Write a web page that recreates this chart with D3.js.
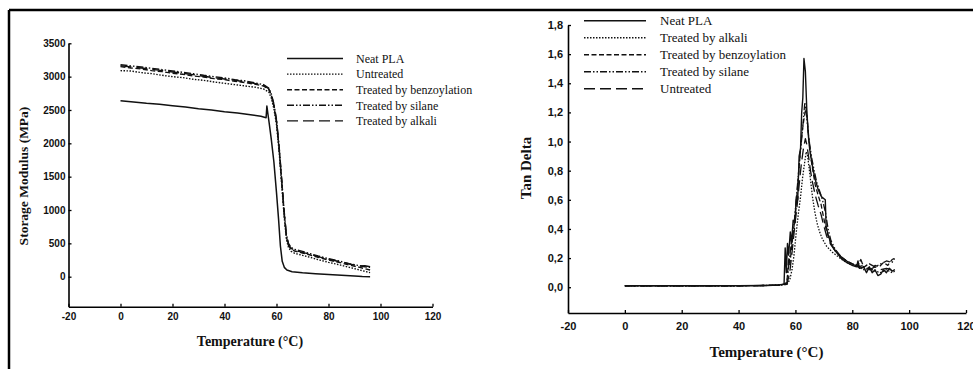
<!DOCTYPE html>
<html><head><meta charset="utf-8">
<script src="https://cdn.jsdelivr.net/npm/d3@7"></script>
<style>body{margin:0;background:#fff}svg{display:block}</style>
</head><body>
<script>
// ---------- DATA ----------
const xTicks = [-20, 0, 20, 40, 60, 80, 100, 120];
const smTicks = [0, 500, 1000, 1500, 2000, 2500, 3000, 3500];
const tdTicks = [0, 0.2, 0.4, 0.6, 0.8, 1.0, 1.2, 1.4, 1.6, 1.8];

const smLegend = ["Neat PLA", "Untreated", "Treated by benzoylation", "Treated by silane", "Treated by alkali"];
const tdLegend = ["Neat PLA", "Treated by alkali", "Treated by benzoylation", "Treated by silane", "Untreated"];

// Storage modulus (MPa) vs temperature (°C)
const smNeat = [[0,2640],[5,2620],[10,2600],[15,2585],[20,2565],[25,2545],[30,2520],[35,2500],[40,2475],[45,2455],[50,2430],[54,2405],[56,2385],[56.3,2560],[56.6,2470],[57.2,2300],[58,2060],[59,1720],[60,1260],[60.8,860],[61.5,460],[62.2,230],[63,140],[64,100],[66,75],[70,58],[75,45],[80,32],[85,20],[90,9],[93,3],[96,0]];
const smUntreated = [[0,3090],[4,3085],[8,3060],[12,3045],[16,3020],[20,3000],[24,2985],[28,2960],[32,2945],[36,2920],[40,2900],[44,2880],[48,2860],[52,2840],[55,2815],[57,2770],[58,2680],[59,2520],[60,2280],[61,1880],[62,1380],[63,880],[63.8,560],[64.6,440],[65.6,380],[67,350],[70,320],[73,290],[76,255],[80,215],[84,180],[88,140],[92,100],[94,80],[96,60]];
const smBenzoyl = [[0,3150],[4,3130],[8,3115],[12,3090],[16,3075],[20,3050],[24,3035],[28,3010],[32,2995],[36,2970],[40,2955],[44,2930],[48,2910],[52,2885],[55,2860],[57,2810],[58,2720],[59,2560],[60,2320],[61,1920],[62,1420],[63,920],[63.8,600],[64.6,470],[65.6,415],[67,385],[70,355],[73,325],[76,290],[80,250],[84,215],[88,175],[92,140],[94,120],[96,100]];
const smSilane = [[0,3180],[4,3160],[8,3145],[12,3125],[16,3105],[20,3085],[24,3065],[28,3045],[32,3020],[36,3000],[40,2980],[44,2955],[48,2935],[52,2905],[55,2880],[57,2830],[58,2740],[59,2590],[60,2360],[61,1960],[62,1460],[63,960],[63.8,640],[64.6,500],[65.6,440],[67,410],[70,380],[73,345],[76,310],[80,270],[84,235],[88,195],[92,165],[94,150],[96,140]];
const smAlkali = [[0,3165],[4,3145],[8,3130],[12,3110],[16,3090],[20,3070],[24,3050],[28,3030],[32,3005],[36,2985],[40,2965],[44,2945],[48,2920],[52,2895],[55,2870],[57,2820],[58,2730],[59,2575],[60,2340],[61,1940],[62,1440],[63,940],[63.8,620],[64.6,485],[65.6,425],[67,395],[70,365],[73,335],[76,300],[80,262],[84,228],[88,190],[92,160],[94,165],[96,150]];

// Tan delta vs temperature (°C)
const tdNeat = [[0,0.01],[20,0.01],[40,0.01],[50,0.012],[54,0.015],[56,0.02],[56.4,0.27],[56.8,0.1],[57.2,0.3],[57.6,0.22],[58.2,0.38],[58.6,0.3],[59.2,0.46],[59.8,0.44],[60.3,0.62],[60.8,0.6],[61.3,0.9],[61.8,0.95],[62.2,1.2],[62.6,1.3],[63,1.57],[63.5,1.48],[64,1.22],[64.5,1.05],[65,0.95],[65.8,0.85],[66.8,0.75],[68,0.67],[69.2,0.62],[70.5,0.6],[70.8,0.42],[71.5,0.36],[72.5,0.3],[74,0.25],[76,0.2],[78,0.17],[80,0.15],[81.5,0.14],[82,0.18],[82.5,0.13],[84,0.14],[85,0.1],[86,0.14],[87,0.1],[88,0.12],[89,0.08],[90,0.09],[91,0.12],[92,0.1],[93,0.13],[94,0.11],[95,0.12]];
const tdAlkali = [[0,0.01],[20,0.01],[40,0.01],[50,0.012],[55,0.015],[57,0.02],[58,0.05],[58.8,0.12],[59.5,0.22],[60.2,0.36],[61,0.5],[61.8,0.62],[62.5,0.75],[63.2,0.85],[63.8,0.93],[64.3,0.9],[64.8,0.82],[65.4,0.72],[66,0.62],[66.8,0.52],[67.6,0.44],[68.5,0.38],[69.5,0.33],[71,0.28],[73,0.24],[75,0.21],[77,0.18],[80,0.15],[82,0.14],[84,0.12],[86,0.13],[88,0.11],[90,0.1],[92,0.12],[94,0.1],[95,0.11]];
const tdBenzoyl = [[0,0.01],[20,0.01],[40,0.01],[50,0.012],[55,0.015],[57,0.03],[57.6,0.2],[58,0.15],[58.8,0.3],[59.5,0.42],[60.2,0.55],[60.8,0.7],[61.4,0.85],[62,1.0],[62.6,1.1],[63.2,1.18],[63.7,1.23],[64.2,1.15],[64.8,1.0],[65.5,0.88],[66.3,0.78],[67,0.7],[68,0.63],[69,0.57],[70,0.47],[71,0.38],[72.5,0.3],[74,0.25],[76,0.21],[78,0.18],[80,0.16],[82,0.15],[83.5,0.13],[85,0.15],[86.5,0.12],[88,0.15],[89.5,0.14],[91,0.17],[92.5,0.15],[94,0.19],[95,0.2]];
const tdSilane = [[0,0.01],[20,0.01],[40,0.01],[50,0.012],[55,0.015],[57,0.03],[57.8,0.18],[58.4,0.28],[59,0.35],[59.6,0.45],[60.2,0.58],[60.8,0.72],[61.5,0.88],[62.2,1.02],[62.8,1.15],[63.3,1.27],[63.8,1.2],[64.3,1.1],[65,0.98],[65.8,0.88],[66.6,0.8],[67.5,0.72],[68.5,0.66],[69.5,0.6],[70.5,0.52],[71.5,0.4],[72.5,0.32],[74,0.26],[76,0.21],[78,0.18],[80,0.16],[82,0.15],[83,0.19],[84,0.14],[86,0.16],[88,0.14],[90,0.16],[92,0.18],[94,0.17],[95,0.2]];
const tdUntreated = [[0,0.01],[20,0.01],[40,0.01],[50,0.012],[55,0.015],[57,0.02],[58,0.1],[58.7,0.22],[59.4,0.35],[60,0.46],[60.7,0.58],[61.4,0.72],[62.1,0.85],[62.8,0.95],[63.5,1.02],[64,0.98],[64.6,0.9],[65.3,0.8],[66,0.72],[67,0.63],[68,0.56],[69,0.5],[70,0.42],[71,0.35],[72.5,0.29],[74,0.25],[76,0.21],[78,0.18],[80,0.16],[82,0.14],[84,0.15],[86,0.12],[88,0.14],[90,0.12],[92,0.13],[94,0.12],[95,0.13]];

// ---------- STYLES ----------
const dashSolid = null, dashDot = "1.5,1.5", dashShort = "5,2.5", dashDotDot = "7,2,1.5,2,1.5,2", dashLong = "11,5";

const W = 973, H = 369;
const svg = d3.select("body").append("svg").attr("width", W).attr("height", H);

// outer frame (top & left)
svg.append("line").attr("x1", 9).attr("x2", W).attr("y1", 10).attr("y2", 10).attr("stroke", "#000").attr("stroke-width", 2.5);
svg.append("line").attr("x1", 9).attr("x2", 9).attr("y1", 10).attr("y2", H).attr("stroke", "#000").attr("stroke-width", 2.5);

function drawChart(cfg) {
  const x = d3.scaleLinear().domain([-20, 120]).range([cfg.x0, cfg.x1]);
  const y = d3.scaleLinear().domain(cfg.yDomain).range([cfg.yBottom, cfg.yTop]);
  const g = svg.append("g");

  const xa = g.append("g").attr("transform", `translate(0,${cfg.yBottom})`)
    .call(d3.axisBottom(x).tickValues(xTicks).tickSize(-3).tickPadding(cfg.xPad).tickSizeOuter(0).tickFormat(d => String(d)));
  const ya = g.append("g").attr("transform", `translate(${cfg.x0},0)`)
    .call(d3.axisLeft(y).tickValues(cfg.yTicks).tickSize(-3).tickPadding(cfg.yPad).tickSizeOuter(0).tickFormat(cfg.fmt));
  [xa, ya].forEach(a => {
    a.select(".domain").attr("stroke", "#000").attr("stroke-width", 1.6);
    a.selectAll(".tick line").attr("stroke", "#000").attr("stroke-width", 1.3);
    a.selectAll("text").attr("fill", "#111").attr("font-family", "Liberation Sans, Arial, sans-serif")
      .attr("font-weight", "bold").attr("font-size", cfg.tickFont);
  });
  const line = d3.line().x(d => x(d[0])).y(d => y(d[1]));
  cfg.series.forEach(s => {
    g.append("path").datum(s.data).attr("d", line).attr("fill", "none").attr("stroke", "#111")
      .attr("stroke-width", s.w || 1.3).attr("stroke-dasharray", s.dash).attr("stroke-linejoin", "round");
  });
  // legend
  cfg.legend.forEach((name, i) => {
    const ly = cfg.legY0 + i * cfg.legDy;
    g.append("line").attr("x1", cfg.legX0).attr("x2", cfg.legX1).attr("y1", ly).attr("y2", ly)
      .attr("stroke", "#111").attr("stroke-width", 1.4).attr("stroke-dasharray", cfg.legDash[i]);
    g.append("text").attr("x", cfg.legTx).attr("y", ly).attr("dy", "0.35em").text(name)
      .attr("font-family", "Liberation Serif, Times New Roman, serif").attr("font-size", cfg.legFont).attr("fill", "#111");
  });
  // axis titles
  g.append("text").attr("x", cfg.xtX).attr("y", cfg.xtY).attr("text-anchor", "middle").attr("dy", "0.35em")
    .text("Temperature (°C)").attr("font-family", "Liberation Serif, Times New Roman, serif")
    .attr("font-weight", "bold").attr("font-size", cfg.titleFont).attr("fill", "#111");
  g.append("text").attr("transform", `translate(${cfg.ytX},${cfg.ytY}) rotate(-90)`).attr("text-anchor", "middle").attr("dy", "0.35em")
    .text(cfg.yTitle).attr("font-family", "Liberation Serif, Times New Roman, serif")
    .attr("font-weight", "bold").attr("font-size", cfg.yTitleFont).attr("fill", "#111");
}

drawChart({
  x0: 68.5, x1: 432.5, yTop: 43.3, yBottom: 306.7, yDomain: [-450, 3500],
  yTicks: smTicks, fmt: d => String(d), xPad: 6, yPad: 3, tickFont: 10,
  series: [
    {data: smUntreated, dash: dashDot, w: 1.4},
    {data: smBenzoyl, dash: dashShort, w: 1.4},
    {data: smSilane, dash: dashDotDot, w: 1.4},
    {data: smAlkali, dash: dashLong, w: 1.4},
    {data: smNeat, dash: dashSolid, w: 1.5}
  ],
  legend: smLegend, legDash: [dashSolid, dashDot, dashShort, dashDotDot, dashLong],
  legX0: 287, legX1: 343, legTx: 356, legY0: 58.5, legDy: 15.6, legFont: 12,
  xtX: 250, xtY: 341.5, ytX: 23, ytY: 176, yTitle: "Storage Modulus (MPa)", titleFont: 14, yTitleFont: 13.5
});

drawChart({
  x0: 568, x1: 966, yTop: 25, yBottom: 313, yDomain: [-0.177, 1.8],
  yTicks: tdTicks, fmt: d => d3.format(".1f")(d).replace(".", ","), xPad: 9, yPad: 5, tickFont: 11,
  series: [
    {data: tdAlkali, dash: dashDot, w: 1.3},
    {data: tdUntreated, dash: dashLong, w: 1.3},
    {data: tdBenzoyl, dash: dashShort, w: 1.3},
    {data: tdSilane, dash: dashDotDot, w: 1.3},
    {data: tdNeat, dash: dashSolid, w: 1.4}
  ],
  legend: tdLegend, legDash: [dashSolid, dashDot, dashShort, dashDotDot, dashLong],
  legX0: 584, legX1: 646, legTx: 660, legY0: 20.7, legDy: 17, legFont: 13,
  xtX: 766.5, xtY: 351.5, ytX: 526, ytY: 168, yTitle: "Tan Delta", titleFont: 15, yTitleFont: 15
});
</script>
</body></html>
